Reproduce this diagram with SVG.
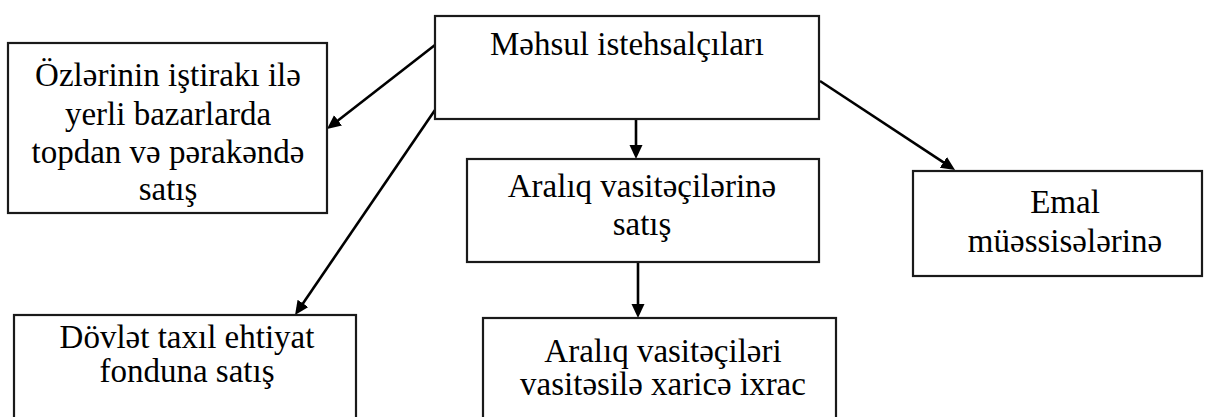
<svg xmlns="http://www.w3.org/2000/svg" width="1206" height="417" viewBox="0 0 1206 417">
<defs>
<style>
.box{fill:#fff;stroke:#1a1a1a;stroke-width:2.2}
.c{stroke:#000;stroke-width:2.6;fill:none;marker-end:url(#ah)}
</style>
<marker id="ah" markerUnits="userSpaceOnUse" markerWidth="16" markerHeight="14" refX="7" refY="6.5" orient="auto">
<path d="M0,0 L14,6.5 L0,13 z" fill="#000"/>
</marker>
</defs>
<rect width="1206" height="417" fill="#fff"/>
<g id="connectors">
<line class="c" x1="435" y1="45" x2="332.5" y2="124.7"/>
<line class="c" x1="435" y1="110" x2="299" y2="309.2"/>
<line class="c" x1="636" y1="113" x2="636" y2="152"/>
<line class="c" x1="638" y1="262" x2="638" y2="311"/>
<line class="c" x1="820" y1="81" x2="949.2" y2="166.2"/>
</g>
<g font-family="Liberation Serif, Times New Roman, serif" font-size="33" fill="#000" text-anchor="middle">
<g id="producers">
<rect class="box" x="435" y="16" width="384" height="103"/>
<text x="627" y="55">Məhsul istehsalçıları</text>
</g>
<g id="local-markets">
<rect class="box" x="8" y="43" width="319" height="170"/>
<text x="168" y="86">Özlərinin iştirakı ilə</text>
<text x="168" y="125">yerli bazarlarda</text>
<text x="168" y="163">topdan və pərakəndə</text>
<text x="168" y="200">satış</text>
</g>
<g id="intermediaries">
<rect class="box" x="467" y="159" width="352" height="103"/>
<text x="642" y="197">Aralıq vasitəçilərinə</text>
<text x="642" y="235">satış</text>
</g>
<g id="processing">
<rect class="box" x="913" y="171" width="289" height="105"/>
<text x="1065" y="213">Emal</text>
<text x="1065" y="252">müəssisələrinə</text>
</g>
<g id="state-fund">
<rect class="box" x="14" y="315" width="342" height="120"/>
<text x="187" y="348">Dövlət taxıl ehtiyat</text>
<text x="187" y="382">fonduna satış</text>
</g>
<g id="export">
<rect class="box" x="483" y="318" width="353" height="120"/>
<text x="663" y="362">Aralıq vasitəçiləri</text>
<text x="663" y="395">vasitəsilə xaricə ixrac</text>
</g>
</g>
</svg>
